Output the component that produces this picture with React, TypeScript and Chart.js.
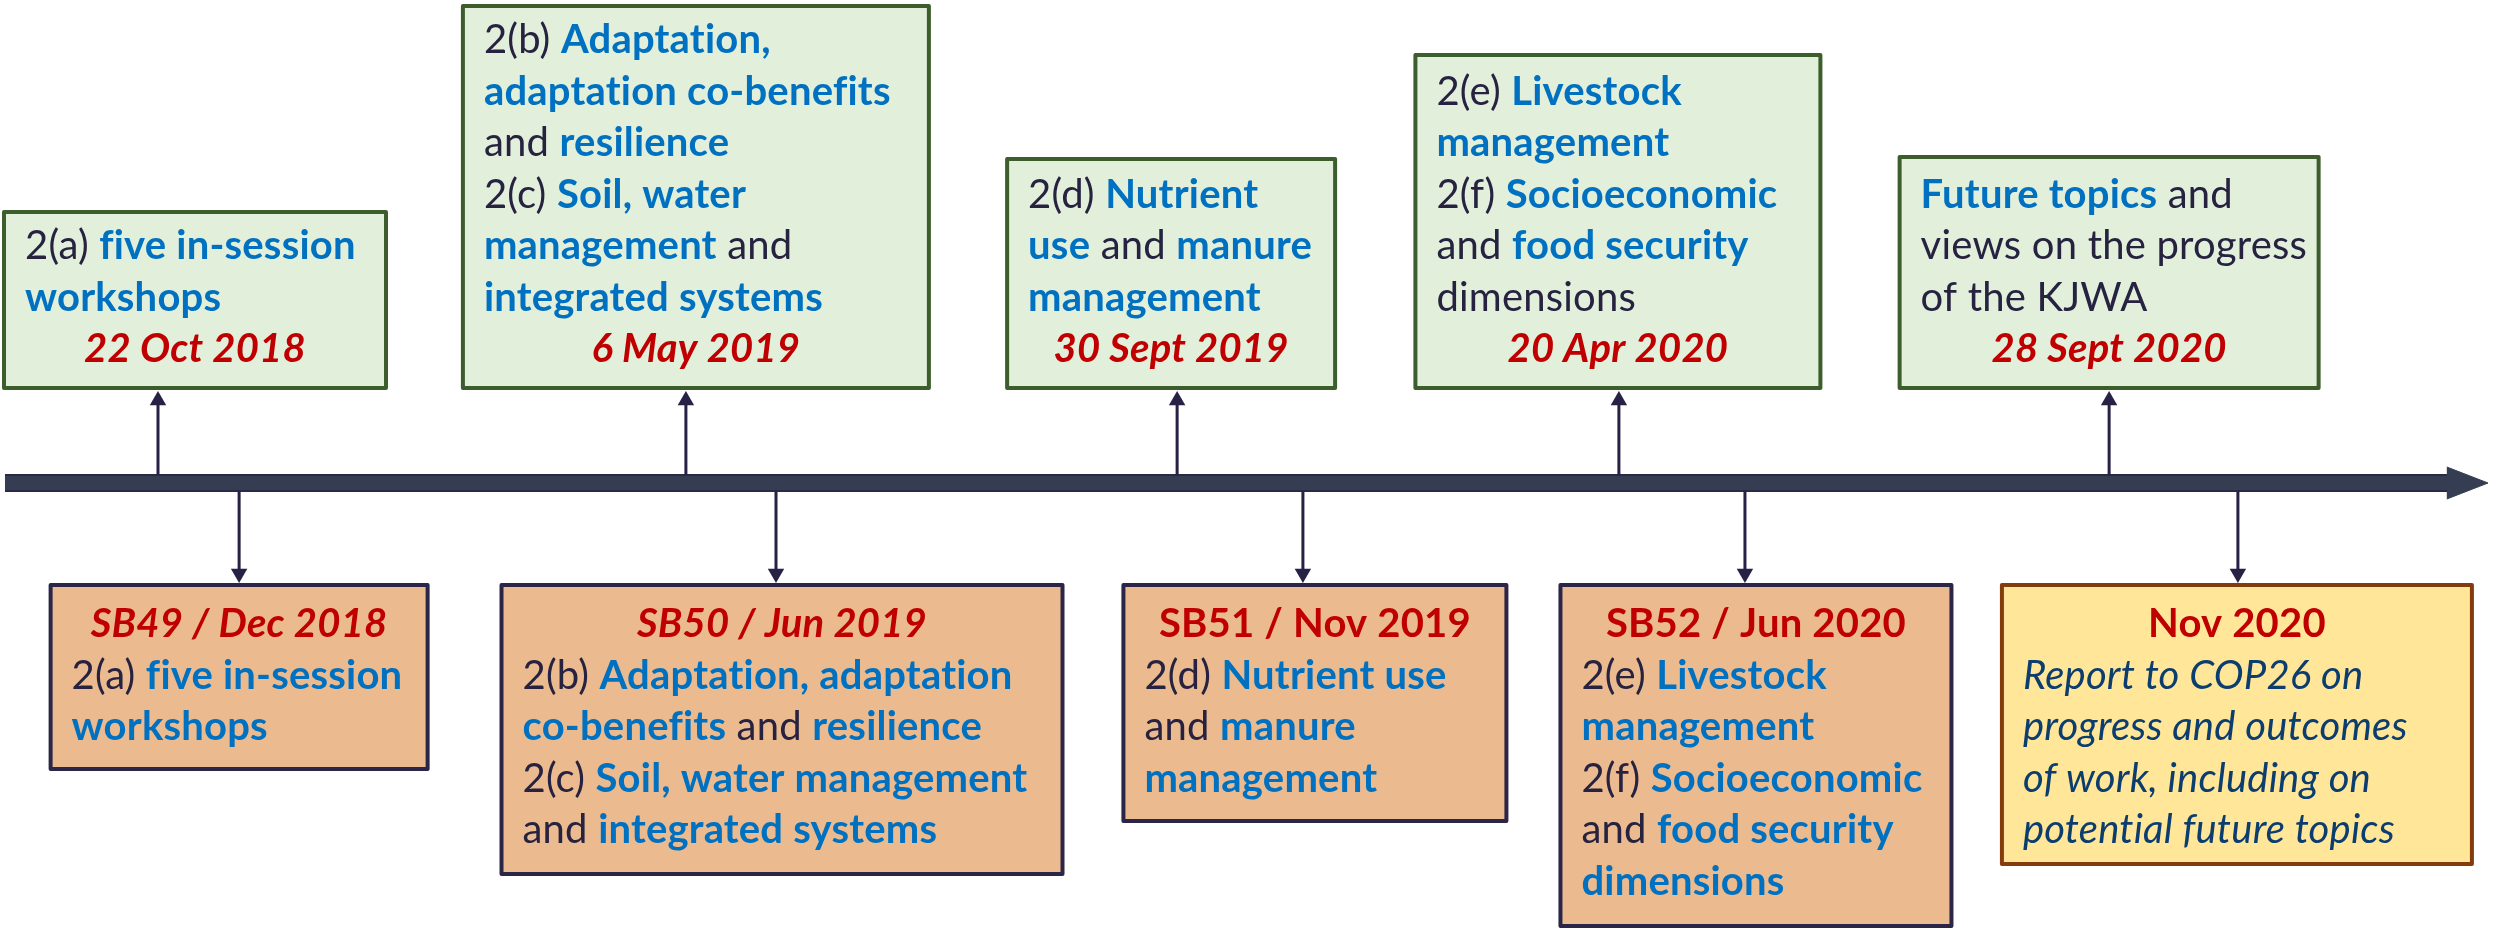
import React, { useEffect, useRef } from 'react';
import { Chart, registerables } from 'chart.js';

Chart.register(...registerables);

// ---------------- DATA ----------------
// Timeline positions (0–100 along the drawn timeline)
const topEventPos = [6.33, 27.48, 47.16, 64.86, 84.5];
const topEventDates = ['22 Oct 2018', '6 May 2019', '30 Sept 2019', '20 Apr 2020', '28 Sept 2020'];
// *...* marks bold blue topic text
const topEventLines = [
  ['2(a) *five in-session*', '*workshops*'],
  ['2(b) *Adaptation,*', '*adaptation co-benefits*', 'and *resilience*', '2(c) *Soil, water*', '*management* and', '*integrated systems*'],
  ['2(d) *Nutrient*', '*use* and *manure*', '*management*'],
  ['2(e) *Livestock*', '*management*', '2(f) *Socioeconomic*', 'and *food security*', 'dimensions'],
  ['*Future topics* and', 'views on the progress', 'of the KJWA'],
];

const bottomEventPos = [9.58, 31.09, 52.2, 69.91, 89.66];
const bottomEventTitles = ['SB49 / Dec 2018', 'SB50 / Jun 2019', 'SB51 / Nov 2019', 'SB52 / Jun 2020', 'Nov 2020'];
// _..._ marks an italic report line
const bottomEventLines = [
  ['2(a) *five in-session*', '*workshops*'],
  ['2(b) *Adaptation, adaptation*', '*co-benefits* and *resilience*', '2(c) *Soil, water management*', 'and *integrated systems*'],
  ['2(d) *Nutrient use*', 'and *manure*', '*management*'],
  ['2(e) *Livestock*', '*management*', '2(f) *Socioeconomic*', 'and *food security*', '*dimensions*'],
  ['_Report to COP26 on_', '_progress and outcomes_', '_of work, including on_', '_potential future topics_'],
];

const timelineStart = 0.2;
const timelineArrowBase = 98.08;
const timelineEnd = 99.68;

// ---------------- LAYOUT / STYLE ----------------
const W = 2496;
const H = 930;
const L = {
  barY: 483,
  barHalf: 8,
  headHalf: 16,
  topBoxBottom: 388,
  topTip: 391,
  bottomBoxTop: 585,
  bottomTip: 583,
  headR: 9.5,
  topW: [382, 466, 328, 405, 419],
  topH: [176, 382, 229, 333, 231],
  topDx: [37, 10, -6, -1, 0],
  bottomW: [377, 561, 383, 391, 470],
  bottomH: [184, 289, 236, 341, 279],
  bottomDx: [0, 6, 12, 11, -1],
  bottomTitleItalic: [true, true, false, false, false],
  bottomFill: ['#EBBB8F', '#EBBB8F', '#EBBB8F', '#EBBB8F', '#FFE699'],
  bottomStroke: ['#2B2547', '#2B2547', '#2B2547', '#2B2547', '#843C0C'],
  pad: 21,
  pitch: 51.5,
  dateBaselineFromBottom: 26,
  titleBaselineFromTop: 52,
};

const FONT = 'Lato';
const FS = 40;
const SX = 1.0;
const C_TEXT = '#262240';
const C_BLUE = '#0070C0';
const C_RED = '#C00000';
const C_NAVY = '#0B3D6E';
const C_LINE = '#262145';

type Kind = 'n' | 'b' | 'i' | 'd' | 'r';
type Run = { text: string; kind: Kind };

function fontFor(k: Kind, italicTitle = false): string {
  if (k === 'n') return `400 ${FS}px ${FONT}`;
  if (k === 'b') return `700 ${FS}px ${FONT}`;
  if (k === 'i') return `italic 400 ${FS}px ${FONT}`;
  if (k === 'd') return `italic 700 ${FS}px ${FONT}`;
  return `${italicTitle ? 'italic ' : ''}700 ${FS}px ${FONT}`;
}
function colorFor(k: Kind): string {
  if (k === 'n') return C_TEXT;
  if (k === 'b') return C_BLUE;
  if (k === 'i') return C_NAVY;
  return C_RED;
}
function parseLine(line: string): Run[] {
  if (line.startsWith('_')) return [{ text: line.replace(/_/g, ''), kind: 'i' }];
  return line
    .split('*')
    .map((t, k) => ({ text: t, kind: (k % 2 ? 'b' : 'n') as Kind }))
    .filter((r) => r.text.length > 0);
}
function setSpacing(ctx: any) {
  // a tiny non-zero letter spacing switches off Lato's "ti" ligature
  if ('letterSpacing' in ctx) ctx.letterSpacing = '0.2px';
}
function runsWidth(ctx: CanvasRenderingContext2D, runs: Run[], it = false): number {
  ctx.save();
  setSpacing(ctx);
  let w = 0;
  for (const r of runs) {
    ctx.font = fontFor(r.kind, it);
    w += ctx.measureText(r.text).width;
  }
  ctx.restore();
  return w * SX;
}
function drawRuns(ctx: CanvasRenderingContext2D, runs: Run[], x: number, y: number, it = false) {
  ctx.save();
  setSpacing(ctx);
  ctx.translate(x, y);
  ctx.scale(SX, 1);
  ctx.textBaseline = 'alphabetic';
  ctx.textAlign = 'left';
  let cx = 0;
  for (const r of runs) {
    ctx.font = fontFor(r.kind, it);
    ctx.fillStyle = colorFor(r.kind);
    ctx.fillText(r.text, cx, 0);
    cx += ctx.measureText(r.text).width;
  }
  ctx.restore();
}
function drawBox(ctx: CanvasRenderingContext2D, x: number, y: number, w: number, h: number, fill: string, stroke: string) {
  ctx.save();
  ctx.fillStyle = fill;
  ctx.fillRect(x, y, w, h);
  ctx.lineWidth = 4;
  ctx.strokeStyle = stroke;
  ctx.lineJoin = 'round';
  ctx.strokeRect(x, y, w, h);
  ctx.restore();
}

const boxesPlugin = {
  id: 'timelineBoxes',
  beforeDatasetsDraw(chart: any) {
    const ctx: CanvasRenderingContext2D = chart.ctx;
    const xs = chart.scales.x;
    const ys = chart.scales.y;
    // top boxes (decisions / workshops)
    topEventPos.forEach((p, i) => {
      const cx = xs.getPixelForValue(p) + L.topDx[i];
      const w = L.topW[i];
      const h = L.topH[i];
      const bottom = ys.getPixelForValue(L.topBoxBottom);
      const left = cx - w / 2;
      drawBox(ctx, left, bottom - h, w, h, '#E2EFDA', '#3D5E2C');
      const dateY = bottom - L.dateBaselineFromBottom;
      const lines = topEventLines[i];
      lines.forEach((ln, k) => {
        const y = dateY - (lines.length - k) * L.pitch;
        drawRuns(ctx, parseLine(ln), left + L.pad, y);
      });
      const dRuns: Run[] = [{ text: topEventDates[i], kind: 'd' }];
      const dw = runsWidth(ctx, dRuns);
      drawRuns(ctx, dRuns, left + w / 2 - dw / 2, dateY);
    });
    // bottom boxes (SB sessions / report)
    bottomEventPos.forEach((p, i) => {
      const cx = xs.getPixelForValue(p) + L.bottomDx[i];
      const w = L.bottomW[i];
      const h = L.bottomH[i];
      const top = ys.getPixelForValue(L.bottomBoxTop);
      const left = cx - w / 2;
      drawBox(ctx, left, top, w, h, L.bottomFill[i], L.bottomStroke[i]);
      const titleY = top + L.titleBaselineFromTop;
      const tRuns: Run[] = [{ text: bottomEventTitles[i], kind: 'r' }];
      const it = L.bottomTitleItalic[i];
      const tw = runsWidth(ctx, tRuns, it);
      drawRuns(ctx, tRuns, left + w / 2 - tw / 2, titleY, it);
      bottomEventLines[i].forEach((ln, k) => {
        drawRuns(ctx, parseLine(ln), left + L.pad, titleY + (k + 1) * L.pitch);
      });
    });
  },
};

export default function App() {
  const ref = useRef<HTMLCanvasElement | null>(null);

  useEffect(() => {
    document.body.style.margin = '0';
    const canvas = ref.current;
    if (!canvas) return;

    const stems: any[] = [];
    topEventPos.forEach((p) => {
      stems.push({ x: p, y: L.barY - L.barHalf }, { x: p, y: L.topTip + L.headR }, { x: p, y: null });
    });
    bottomEventPos.forEach((p) => {
      stems.push({ x: p, y: L.barY + L.barHalf }, { x: p, y: L.bottomTip - L.headR }, { x: p, y: null });
    });
    const heads = [
      ...topEventPos.map((p) => ({ x: p, y: L.topTip + L.headR })),
      ...bottomEventPos.map((p) => ({ x: p, y: L.bottomTip - L.headR })),
    ];
    const headRot = [...topEventPos.map(() => 0), ...bottomEventPos.map(() => 180)];

    const chart = new Chart(canvas, {
      type: 'scatter',
      data: {
        datasets: [
          {
            type: 'line',
            label: 'timeline outline',
            data: [
              { x: timelineStart, y: L.barY },
              { x: timelineArrowBase, y: L.barY },
            ],
            borderColor: '#2C2946',
            borderWidth: 18,
            borderCapStyle: 'butt',
            pointRadius: 0,
            fill: false,
            clip: false,
            order: 6,
          } as any,
          {
            type: 'line',
            label: 'timeline',
            data: [
              { x: timelineStart, y: L.barY },
              { x: timelineArrowBase, y: L.barY },
            ],
            borderColor: '#343D51',
            borderWidth: 14,
            borderCapStyle: 'butt',
            pointRadius: 0,
            fill: false,
            clip: false,
            order: 5,
          } as any,
          {
            type: 'line',
            label: 'timeline arrow',
            data: [
              { x: timelineArrowBase - 0.05, y: L.barY - L.headHalf },
              { x: timelineEnd, y: L.barY },
              { x: timelineArrowBase - 0.05, y: L.barY + L.headHalf },
            ],
            borderColor: '#343D51',
            backgroundColor: '#343D51',
            borderWidth: 1,
            pointRadius: 0,
            fill: 'shape',
            tension: 0,
            clip: false,
            order: 4,
          } as any,
          {
            type: 'line',
            label: 'connectors',
            data: stems,
            borderColor: C_LINE,
            borderWidth: 3,
            pointRadius: 0,
            spanGaps: false,
            fill: false,
            clip: false,
            order: 3,
          } as any,
          {
            type: 'scatter',
            label: 'arrow heads',
            data: heads,
            pointStyle: 'triangle',
            pointRadius: L.headR,
            pointRotation: headRot,
            backgroundColor: C_LINE,
            borderColor: C_LINE,
            borderWidth: 0,
            clip: false,
            order: 2,
          } as any,
        ],
      },
      options: {
        animation: false,
        responsive: false,
        maintainAspectRatio: false,
        events: [],
        layout: { padding: 0, autoPadding: false },
        plugins: { legend: { display: false }, tooltip: { enabled: false } },
        scales: {
          x: { type: 'linear', min: 0, max: 100, display: false },
          y: { type: 'linear', min: 0, max: H, reverse: true, display: false },
        },
      } as any,
      plugins: [boxesPlugin],
    });

    let alive = true;
    const fonts: any = (document as any).fonts;
    if (fonts && fonts.load) {
      Promise.all([
        fonts.load(`400 ${FS}px ${FONT}`),
        fonts.load(`700 ${FS}px ${FONT}`),
        fonts.load(`italic 400 ${FS}px ${FONT}`),
        fonts.load(`italic 700 ${FS}px ${FONT}`),
      ])
        .then(() => {
          if (alive) chart.update();
        })
        .catch(() => {});
    }

    return () => {
      alive = false;
      chart.destroy();
    };
  }, []);

  return (
    <div style={{ width: W, height: H, background: '#ffffff' }}>
      <canvas ref={ref} width={W} height={H} style={{ display: 'block', width: W, height: H }} />
    </div>
  );
}
